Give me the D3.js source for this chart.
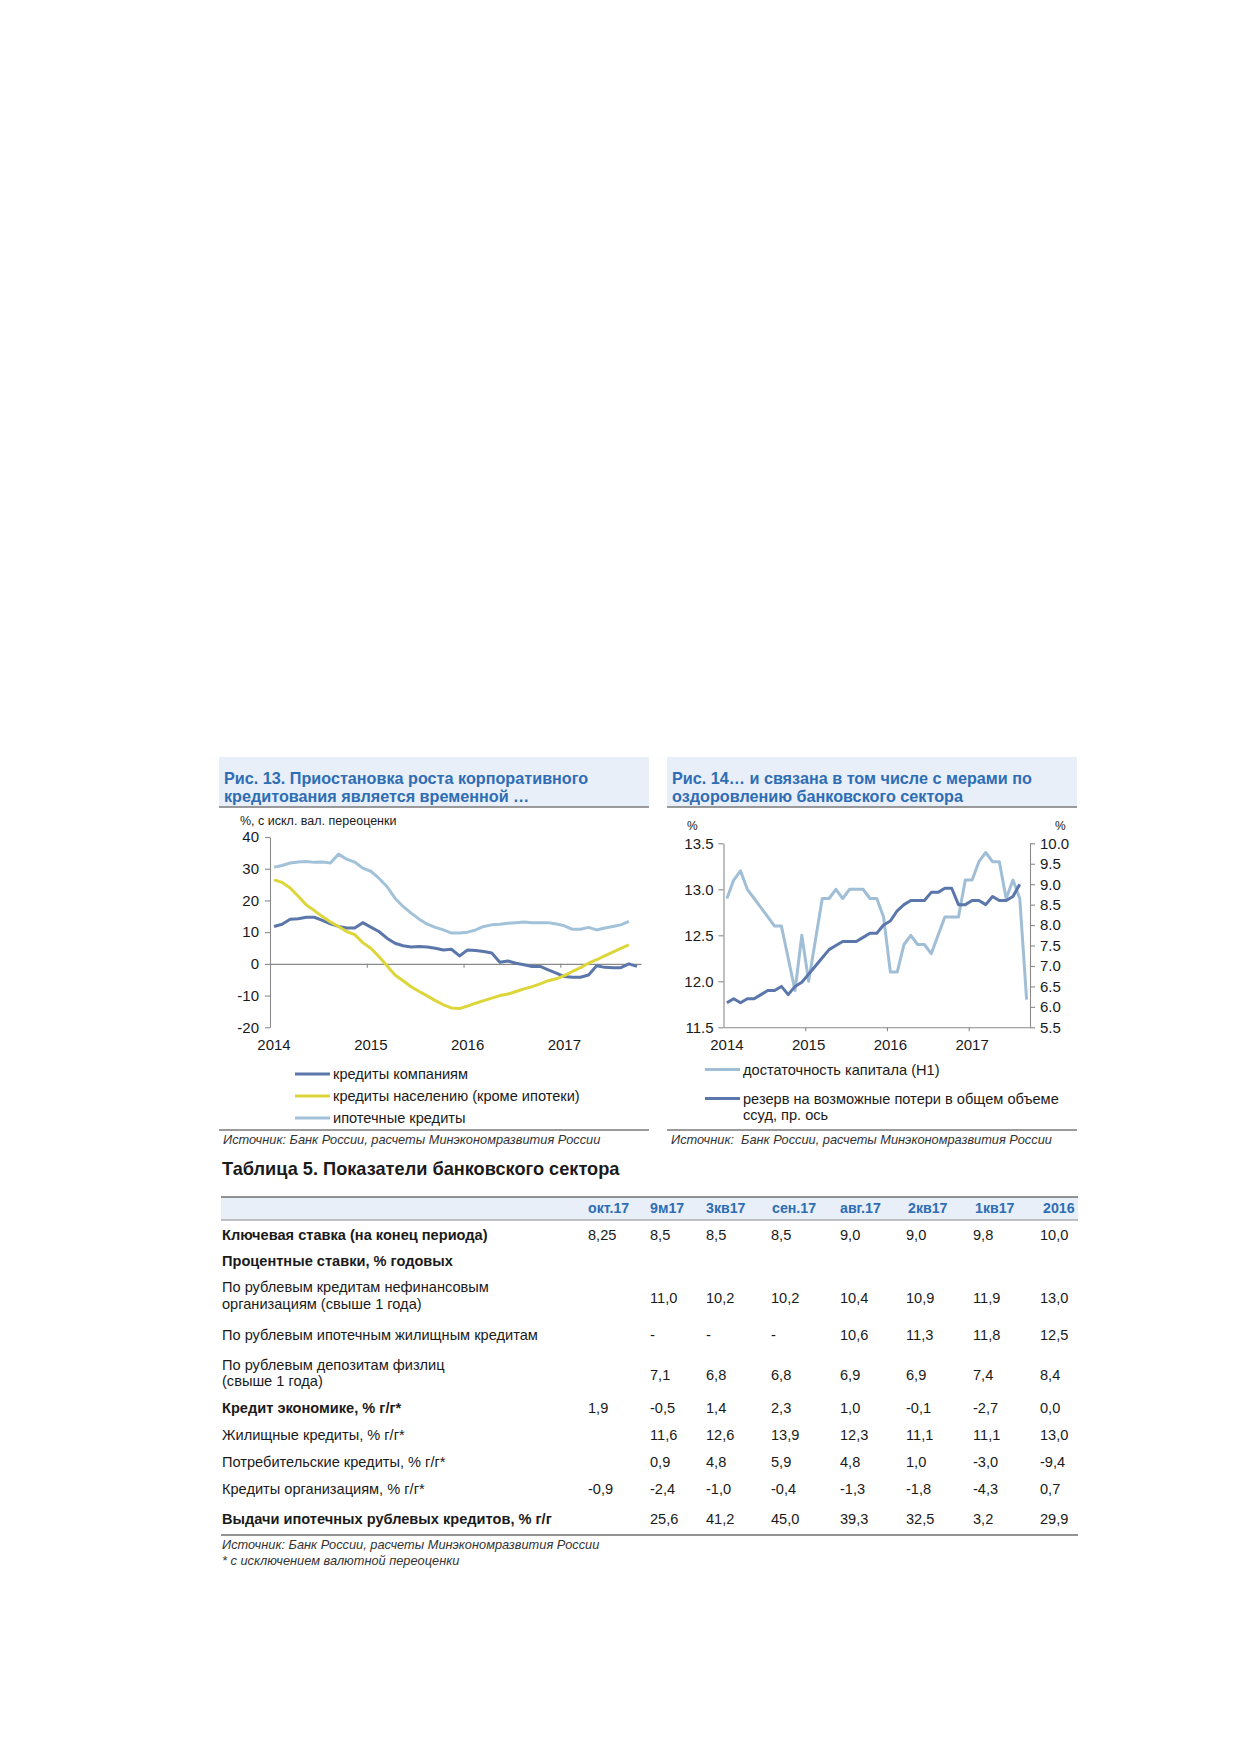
<!DOCTYPE html>
<html><head><meta charset="utf-8">
<script src="https://cdn.jsdelivr.net/npm/d3@7/dist/d3.min.js"></script>
<style>
html,body{margin:0;padding:0;background:#fff;}
svg{display:block;font-family:"Liberation Sans",Arial,sans-serif;}
text{white-space:pre;}
</style></head>
<body>
<svg id="page" width="1239" height="1752"></svg>
<script>
// ---------- DATA ----------
// Chart 13: monthly, Jan 2014 .. Oct 2017
const fig13Years = ["2014","2015","2016","2017"];
const fig13Corp = [11.8,12.5,14.1,14.2,14.7,14.7,13.7,12.6,11.8,11.3,11.3,13.0,11.6,10.2,8.1,6.5,5.7,5.3,5.5,5.3,4.9,4.4,4.6,2.5,4.4,4.2,3.9,3.4,0.5,0.9,0.2,-0.3,-0.8,-0.8,-1.9,-2.9,-4.0,-4.2,-4.2,-3.5,-0.6,-1.1,-1.2,-1.2,0.0,-0.8];
const fig13Cons = [26.5,25.7,23.9,21.3,18.6,16.8,14.9,13.2,11.8,10.2,9.2,6.7,4.9,2.3,-0.6,-3.5,-5.3,-7.2,-8.7,-10.1,-11.6,-12.9,-13.9,-14.1,-13.3,-12.4,-11.6,-10.8,-10.0,-9.5,-8.7,-7.9,-7.2,-6.3,-5.3,-4.7,-3.7,-2.4,-1.2,0.2,1.3,2.5,3.7,4.9,6.0];
const fig13Mort = [30.5,31.0,31.8,32.1,32.3,32.0,32.1,31.8,34.6,33.0,32.1,30.2,29.2,27.0,24.4,20.7,18.1,16.0,14.1,12.5,11.5,10.7,9.7,9.7,10.0,10.7,11.8,12.3,12.5,12.8,13.0,13.2,13.0,13.0,13.0,12.6,12.0,10.9,10.9,11.5,10.7,11.3,11.8,12.3,13.4];
const fig13Ticks = [-20,-10,0,10,20,30,40];
const fig13Legend = ["кредиты компаниям","кредиты населению (кроме ипотеки)","ипотечные кредиты"];

// Chart 14: monthly, Jan 2014 .. Sep 2017
const fig14Years = ["2014","2015","2016","2017"];
const fig14Capital = [12.9,13.1,13.2,13.0,12.9,12.8,12.7,12.6,12.6,12.25,11.9,12.5,12.0,12.45,12.9,12.9,13.0,12.9,13.0,13.0,13.0,12.9,12.9,12.7,12.1,12.1,12.4,12.5,12.4,12.4,12.3,12.5,12.7,12.7,12.7,13.1,13.1,13.3,13.4,13.3,13.3,12.9,13.1,12.9,11.8];
const fig14Reserve = [6.1,6.2,6.1,6.2,6.2,6.3,6.4,6.4,6.5,6.3,6.5,6.6,6.8,7.0,7.2,7.4,7.5,7.6,7.6,7.6,7.7,7.8,7.8,8.0,8.1,8.35,8.5,8.6,8.6,8.6,8.8,8.8,8.9,8.9,8.5,8.5,8.6,8.6,8.5,8.7,8.6,8.6,8.7,9.0];
const fig14LeftTicks = [11.5,12.0,12.5,13.0,13.5];
const fig14RightTicks = [5.5,6.0,6.5,7.0,7.5,8.0,8.5,9.0,9.5,10.0];
const fig14Legend = [["достаточность капитала (Н1)"],["резерв на возможные потери в общем объеме","ссуд, пр. ось"]];

// Table 5
const tableCols = ["окт.17","9м17","3кв17","сен.17","авг.17","2кв17","1кв17","2016"];
const tableLabels = [
  ["Ключевая ставка (на конец периода)"],
  ["Процентные ставки, % годовых"],
  ["По рублевым кредитам нефинансовым","организациям (свыше 1 года)"],
  ["По рублевым ипотечным жилищным кредитам"],
  ["По рублевым депозитам физлиц","(свыше 1 года)"],
  ["Кредит экономике, % г/г*"],
  ["Жилищные кредиты, % г/г*"],
  ["Потребительские кредиты, % г/г*"],
  ["Кредиты организациям, % г/г*"],
  ["Выдачи ипотечных рублевых кредитов, % г/г"]
];
const tableBold = [true,true,false,false,false,true,false,false,false,true];
const tableValues = [
  ["8,25","8,5","8,5","8,5","9,0","9,0","9,8","10,0"],
  ["","","","","","","",""],
  ["","11,0","10,2","10,2","10,4","10,9","11,9","13,0"],
  ["","-","-","-","10,6","11,3","11,8","12,5"],
  ["","7,1","6,8","6,8","6,9","6,9","7,4","8,4"],
  ["1,9","-0,5","1,4","2,3","1,0","-0,1","-2,7","0,0"],
  ["","11,6","12,6","13,9","12,3","11,1","11,1","13,0"],
  ["","0,9","4,8","5,9","4,8","1,0","-3,0","-9,4"],
  ["-0,9","-2,4","-1,0","-0,4","-1,3","-1,8","-4,3","0,7"],
  ["","25,6","41,2","45,0","39,3","32,5","3,2","29,9"]
];
const sourceText = "Источник: Банк России, расчеты Минэкономразвития России";
const sourceText14 = "Источник:  Банк России, расчеты Минэкономразвития России";
const footnote = "* с исключением валютной переоценки";

// ---------- STYLE / LAYOUT ----------
const BLUE_T = "#2e6db4", BAND = "#e8eff8", AX = "#8a8a8a", TXT = "#1a1a1a";
const C_CORP = "#5a76aa", C_CONS = "#ddd63a", C_MORT = "#a2c2d9";
const C_CAP = "#a0bed6", C_RES = "#5a76aa";
const FS_TICK = 15, FS_LEG = 14.6, FS_SRC = 12.8, FS_TAB = 14.6, FS_TITLE = 16.2;
const colLeft = [588,650,706,771,840,906,973,1040];
const headLeft = [588,650,706,772,840,908,975,1043];

const svg = d3.select("#page");

function title(x0, x1, lines){
  svg.append("rect").attr("x",x0).attr("y",757).attr("width",x1-x0).attr("height",50).attr("fill",BAND);
  svg.append("line").attr("x1",x0).attr("x2",x1).attr("y1",807).attr("y2",807).attr("stroke","#7a7a7a").attr("stroke-width",1.3);
  lines.forEach((t,i)=>svg.append("text").attr("x",x0+5).attr("y",784+i*17.5)
    .attr("font-size",FS_TITLE).attr("font-weight","bold").attr("fill",BLUE_T).text(t));
}
function styleAxis(g){
  g.selectAll("path,line").attr("stroke",AX).attr("stroke-width",1.1);
  g.selectAll("text").attr("fill",TXT).attr("font-size",FS_TICK).attr("font-family","'Liberation Sans',Arial,sans-serif");
}
function legendRow(x, y, color, lines){
  svg.append("line").attr("x1",x).attr("x2",x+35).attr("y1",y).attr("y2",y).attr("stroke",color).attr("stroke-width",3);
  lines.forEach((t,i)=>svg.append("text").attr("x",x+38).attr("y",y+5+i*16.5).attr("font-size",FS_LEG).attr("fill",TXT).text(t));
}
function source(x0,x1,y,t){
  svg.append("line").attr("x1",x0).attr("x2",x1).attr("y1",y).attr("y2",y).attr("stroke","#7a7a7a").attr("stroke-width",1.3);
  svg.append("text").attr("x",x0+4).attr("y",y+14).attr("font-size",FS_SRC).attr("font-style","italic").attr("fill","#333").text(t);
}
const plainFmt = d => String(d);

// ---------- FIG 13 ----------
title(219, 649, ["Рис. 13. Приостановка роста корпоративного","кредитования является временной …"]);
svg.append("text").attr("x",240).attr("y",825).attr("font-size",12.5).attr("fill",TXT).text("%, с искл. вал. переоценки");

const n13 = 46;
const x13 = d3.scaleLinear().domain([0,n13]).range([270,641]);
const y13 = d3.scaleLinear().domain([-20,40]).range([1027.3,837]);
styleAxis(svg.append("g").attr("transform","translate(270,0)")
  .call(d3.axisLeft(y13).tickValues(fig13Ticks).tickSize(5).tickSizeOuter(0).tickPadding(6).tickFormat(plainFmt)));
styleAxis(svg.append("g").attr("transform",`translate(0,${y13(0)})`)
  .call(d3.axisBottom(x13).tickValues([12,24,36]).tickSize(4).tickSizeOuter(0).tickFormat("")));
fig13Years.forEach((t,k)=>svg.append("text").attr("x",x13(k*12+0.5)).attr("y",1049.5)
  .attr("text-anchor","middle").attr("font-size",FS_TICK).attr("fill",TXT).text(t));

const line13 = d3.line().x((d,i)=>x13(i+0.5)).y(d=>y13(d));
[[fig13Mort,C_MORT],[fig13Corp,C_CORP],[fig13Cons,C_CONS]].forEach(([data,c])=>
  svg.append("path").attr("d",line13(data)).attr("fill","none").attr("stroke",c).attr("stroke-width",3).attr("stroke-linejoin","round"));

legendRow(295,1074,C_CORP,[fig13Legend[0]]);
legendRow(295,1096,C_CONS,[fig13Legend[1]]);
legendRow(295,1118,C_MORT,[fig13Legend[2]]);
source(219,649,1130,sourceText);

// ---------- FIG 14 ----------
title(667, 1077, ["Рис. 14… и связана в том числе с мерами по","оздоровлению банковского сектора"]);
svg.append("text").attr("x",687).attr("y",830).attr("font-size",12).attr("fill",TXT).text("%");
svg.append("text").attr("x",1055).attr("y",830).attr("font-size",12).attr("fill",TXT).text("%");

const n14 = 45;
const x14 = d3.scaleLinear().domain([0,n14]).range([723.5,1030]);
const yL = d3.scaleLinear().domain([11.5,13.5]).range([1027.3,843.3]);
const yR = d3.scaleLinear().domain([5.5,10]).range([1027.3,843.3]);
styleAxis(svg.append("g").attr("transform","translate(723.5,0)")
  .call(d3.axisLeft(yL).tickValues(fig14LeftTicks).tickSize(5).tickSizeOuter(0).tickPadding(5).tickFormat(d3.format(".1f"))));
styleAxis(svg.append("g").attr("transform","translate(1030,0)")
  .call(d3.axisRight(yR).tickValues(fig14RightTicks).tickSize(5).tickSizeOuter(0).tickPadding(5).tickFormat(d3.format(".1f"))));
styleAxis(svg.append("g").attr("transform","translate(0,1027.3)")
  .call(d3.axisBottom(x14).tickValues([12,24,36]).tickSize(4).tickSizeOuter(0).tickFormat("")));
fig14Years.forEach((t,k)=>svg.append("text").attr("x",x14(k*12+0.5)).attr("y",1049.5)
  .attr("text-anchor","middle").attr("font-size",FS_TICK).attr("fill",TXT).text(t));

svg.append("path").attr("d",d3.line().x((d,i)=>x14(i+0.5)).y(d=>yL(d))(fig14Capital))
  .attr("fill","none").attr("stroke",C_CAP).attr("stroke-width",3).attr("stroke-linejoin","round");
svg.append("path").attr("d",d3.line().x((d,i)=>x14(i+0.5)).y(d=>yR(d))(fig14Reserve))
  .attr("fill","none").attr("stroke",C_RES).attr("stroke-width",3).attr("stroke-linejoin","round");

legendRow(705,1069.5,C_CAP,fig14Legend[0]);
legendRow(705,1098.5,C_RES,fig14Legend[1]);
source(667,1077,1130,sourceText14);

// ---------- TABLE 5 ----------
svg.append("text").attr("x",222).attr("y",1175).attr("font-size",18.2).attr("font-weight","bold").attr("fill",TXT)
  .text("Таблица 5. Показатели банковского сектора");
const tx0 = 221, tx1 = 1078;
svg.append("rect").attr("x",tx0).attr("y",1197).attr("width",tx1-tx0).attr("height",23).attr("fill",BAND);
svg.append("line").attr("x1",tx0).attr("x2",tx1).attr("y1",1197).attr("y2",1197).attr("stroke","#6f6f6f").attr("stroke-width",1.5);
svg.append("line").attr("x1",tx0).attr("x2",tx1).attr("y1",1220).attr("y2",1220).attr("stroke","#8a8a8a").attr("stroke-width",1);
svg.append("line").attr("x1",tx0).attr("x2",tx1).attr("y1",1535).attr("y2",1535).attr("stroke","#6f6f6f").attr("stroke-width",1.5);

tableCols.forEach((c,j)=>svg.append("text").attr("x",headLeft[j]).attr("y",1213)
  .attr("font-size",FS_TAB-0.4).attr("font-weight","bold").attr("fill",BLUE_T).text(c));

const labelBase = [[1239.5],[1266],[1292,1308.5],[1340],[1369.5,1385.5],[1412.5],[1440],[1467],[1494],[1524]];
const valueBase = [1239.5,1266,1303,1340,1380,1412.5,1440,1467,1494,1524];
tableLabels.forEach((lines,r)=>{
  lines.forEach((t,k)=>svg.append("text").attr("x",222).attr("y",labelBase[r][k]).attr("font-size",FS_TAB)
    .attr("font-weight",tableBold[r]?"bold":"normal").attr("fill",TXT).text(t));
  tableValues[r].forEach((v,j)=>{ if(v!=="") svg.append("text").attr("x",colLeft[j]).attr("y",valueBase[r])
    .attr("font-size",FS_TAB).attr("fill",TXT).text(v); });
});
svg.append("text").attr("x",222).attr("y",1548.5).attr("font-size",FS_SRC).attr("font-style","italic").attr("fill","#333").text(sourceText);
svg.append("text").attr("x",222).attr("y",1564.5).attr("font-size",FS_SRC).attr("font-style","italic").attr("fill","#333").text(footnote);
</script>
</body></html>
